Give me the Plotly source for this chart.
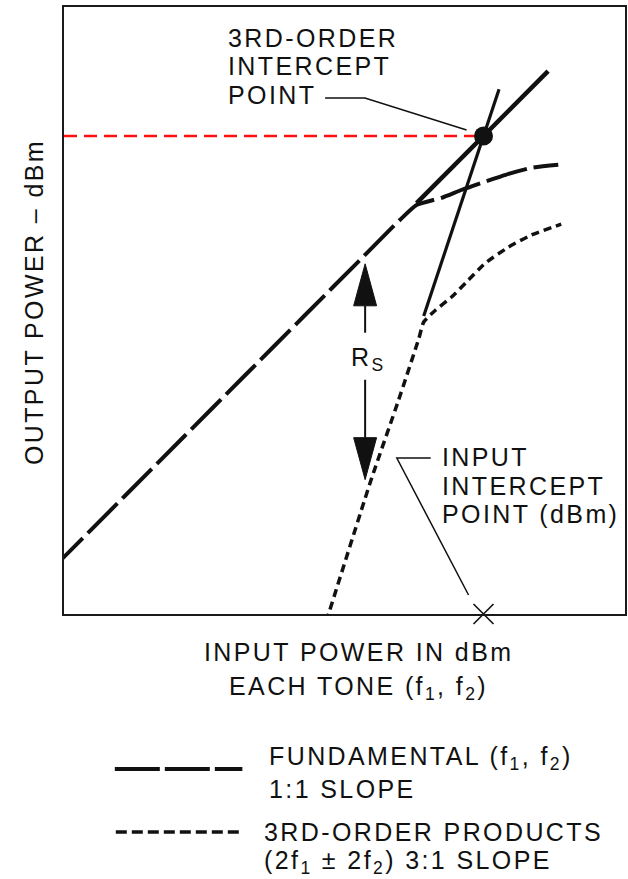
import numpy as np
import plotly.graph_objects as go

# ---------------- data (dBm) ----------------
fund_in = [-62, -50, -40, -30, -20, -10, -4, -1.2, 3.0, 6.3, 9.7, 14.2, 18.0, 22.5]
fund_out = [-52, -40, -30, -20, -10, 0, 6, 8.5, 9.7, 11.0, 12.2, 13.7, 14.7, 15.2]

im3_in = [-17, -15.8, -8.8, -4.2, -0.8, 0.0, 2.0, 4.7, 7.0, 10.3, 14.2, 18.0, 23.0]
im3_out = [-63, -59.3, -37.3, -24.0, -13.7, -11.0, -9.0, -6.8, -4.5, -1.2, 1.5, 3.5, 5.3]

fund_ext_in = [-1.2, 20.8]
fund_ext_out = [8.8, 30.8]
im3_ext_in = [0.0, 12.6]
im3_ext_out = [-10.0, 27.8]

iip3 = 10.0    # input intercept point
oip3 = 20.0    # output intercept point
rs_in = -9.8   # input level where R_S is shown

# ---------------- layout geometry ----------------
FIG_W, FIG_H = 628, 879
L, T, W, H = 64, 7, 563, 607
PXDB = 6.0
XR = [iip3 - 421 / PXDB, iip3 + 142 / PXDB]
YR = [oip3 - 478 / PXDB, oip3 + 129 / PXDB]

FONT = "Liberation Sans, Arial, Helvetica, sans-serif"
INK = "#111111"
FS = 25
LS = 2.4


def px(x):
    return (x - L) / W


def py(y):
    return (T + H - y) / H


def dx2px(v):
    return L + (v - XR[0]) / (XR[1] - XR[0]) * W


def dy2px(v):
    return T + (YR[1] - v) / (YR[1] - YR[0]) * H


def sp(s):
    return f'<span style="letter-spacing:{LS}px">{s}</span>'


fig = go.Figure()

# fundamental (long dashes)
fig.add_trace(go.Scatter(x=fund_in, y=fund_out, mode="lines",
                         line=dict(color=INK, width=4, dash="42px,7px", shape="spline", smoothing=0.5),
                         hoverinfo="skip", showlegend=False))
# fundamental extrapolation
fig.add_trace(go.Scatter(x=fund_ext_in, y=fund_ext_out, mode="lines",
                         line=dict(color=INK, width=4.5), hoverinfo="skip", showlegend=False))
# 3rd order (short dashes)
fig.add_trace(go.Scatter(x=im3_in, y=im3_out, mode="lines",
                         line=dict(color=INK, width=3.5, dash="8px,5px", shape="spline", smoothing=0.5),
                         hoverinfo="skip", showlegend=False))
# 3rd order extrapolation
fig.add_trace(go.Scatter(x=im3_ext_in, y=im3_ext_out, mode="lines",
                         line=dict(color=INK, width=3.2), hoverinfo="skip", showlegend=False))
# red dashed OIP3 level
fig.add_trace(go.Scatter(x=[XR[0], iip3 - 0.8], y=[oip3, oip3], mode="lines",
                         line=dict(color="#ff1010", width=2.5, dash="13px,7px"),
                         hoverinfo="skip", showlegend=False))
# intercept point
fig.add_trace(go.Scatter(x=[iip3], y=[oip3], mode="markers", cliponaxis=False,
                         marker=dict(color=INK, size=19), hoverinfo="skip", showlegend=False))
# input intercept mark on axis
fig.add_trace(go.Scatter(x=[iip3], y=[YR[0]], mode="markers", cliponaxis=False,
                         marker=dict(symbol="x-thin", size=20, line=dict(color=INK, width=1.6)),
                         hoverinfo="skip", showlegend=False))

shapes = []

# R_S arrow
ax_px = dx2px(rs_in)
top_tip = dy2px(float(np.interp(rs_in, fund_in, fund_out))) + 9
bot_tip = dy2px(float(np.interp(rs_in, im3_in, im3_out))) - 19
head_len, head_half = 42, 11.5
rs_mid = (top_tip + bot_tip) / 2 - 15


def tri(tipy, basey):
    return (f"M {px(ax_px)},{py(tipy)} L {px(ax_px - head_half)},{py(basey)} "
            f"L {px(ax_px + head_half)},{py(basey)} Z")


shapes.append(dict(type="path", xref="paper", yref="paper", path=tri(top_tip, top_tip + head_len),
                   fillcolor=INK, line=dict(color=INK, width=1)))
shapes.append(dict(type="path", xref="paper", yref="paper", path=tri(bot_tip, bot_tip - head_len),
                   fillcolor=INK, line=dict(color=INK, width=1)))
shapes.append(dict(type="line", xref="paper", yref="paper", x0=px(ax_px), x1=px(ax_px),
                   y0=py(top_tip + head_len), y1=py(rs_mid - 24), line=dict(color=INK, width=2)))
shapes.append(dict(type="line", xref="paper", yref="paper", x0=px(ax_px), x1=px(ax_px),
                   y0=py(rs_mid + 23), y1=py(bot_tip - head_len), line=dict(color=INK, width=2)))

# leader lines
ipx, ipy = dx2px(iip3), dy2px(oip3)
shapes.append(dict(type="path", xref="paper", yref="paper",
                   path=f"M {px(326)},{py(98)} L {px(366)},{py(98)} L {px(ipx - 17)},{py(ipy - 6)}",
                   line=dict(color=INK, width=1.5)))
shapes.append(dict(type="path", xref="paper", yref="paper",
                   path=f"M {px(432)},{py(458)} L {px(398)},{py(458)} L {px(ipx - 15)},{py(595)}",
                   line=dict(color=INK, width=1.5)))

# legend keys
shapes.append(dict(type="line", xref="paper", yref="paper", x0=px(115), x1=px(243), y0=py(769), y1=py(769),
                   line=dict(color=INK, width=4, dash="45px,5px")))
shapes.append(dict(type="line", xref="paper", yref="paper", x0=px(116), x1=px(242), y0=py(832), y1=py(832),
                   line=dict(color=INK, width=3.5, dash="11px,5px")))

annotations = []


def txt(s, x, y, xanchor="left", angle=None):
    a = dict(text=sp(s), x=px(x), y=py(y), xref="paper", yref="paper",
             xanchor=xanchor, yanchor="middle", showarrow=False,
             font=dict(family=FONT, size=FS, color=INK))
    if angle is not None:
        a["textangle"] = angle
    annotations.append(a)


txt("3RD-ORDER", 227, 38)
txt("INTERCEPT", 227, 66)
txt("POINT", 227, 95)

txt("INPUT", 441, 457)
txt("INTERCEPT", 441, 486)
txt("POINT (dBm)", 441, 514)

txt("R<sub>S</sub>", 370, rs_mid + 2, xanchor="center")

txt("INPUT POWER IN dBm", 360, 652, xanchor="center")
txt("EACH TONE (f<sub>1</sub>, f<sub>2</sub>)", 360, 688, xanchor="center")

txt("OUTPUT POWER – dBm", 34, 302, xanchor="center", angle=-90)

txt("FUNDAMENTAL (f<sub>1</sub>, f<sub>2</sub>)", 268, 758)
txt("1:1 SLOPE", 268, 789)
txt("3RD-ORDER PRODUCTS", 263, 832)
txt("(2f<sub>1</sub> ± 2f<sub>2</sub>) 3:1 SLOPE", 263, 862)

axis_common = dict(showgrid=False, zeroline=False, showticklabels=False, ticks="",
                   showline=True, mirror=True, linecolor="#1a1a1a", linewidth=2, fixedrange=True)

fig.update_layout(
    width=FIG_W, height=FIG_H, autosize=False,
    margin=dict(l=L, r=FIG_W - L - W, t=T, b=FIG_H - T - H, pad=0),
    paper_bgcolor="white", plot_bgcolor="white",
    xaxis=dict(range=XR, **axis_common),
    yaxis=dict(range=YR, **axis_common),
    shapes=shapes, annotations=annotations, showlegend=False,
)

fig.write_html("out.html")
